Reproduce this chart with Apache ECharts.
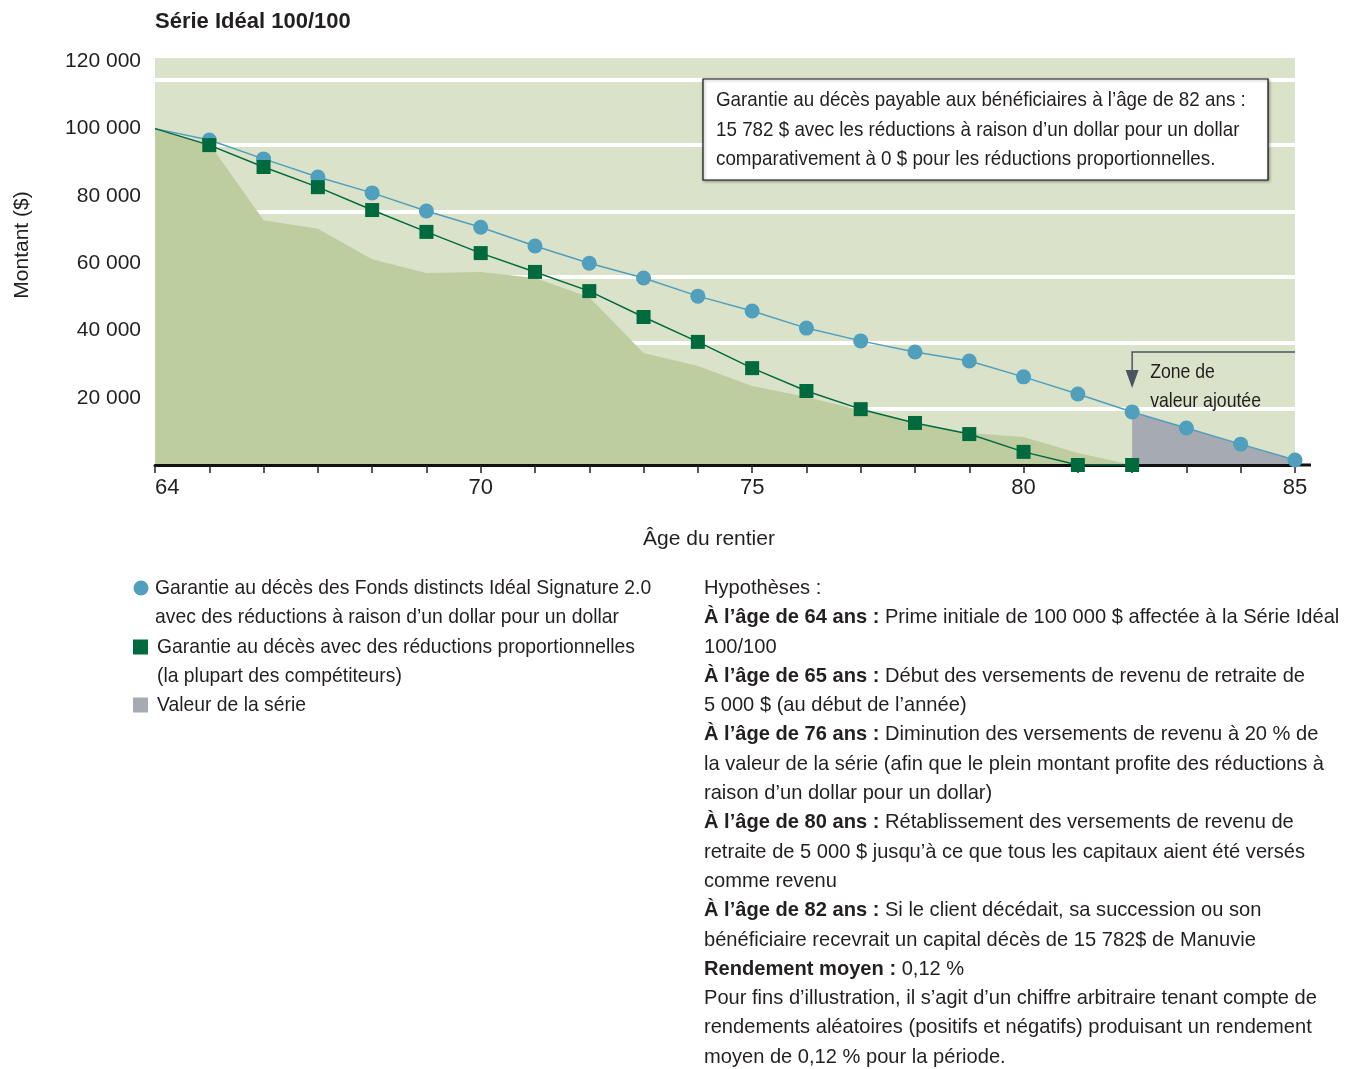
<!DOCTYPE html>
<html>
<head>
<meta charset="utf-8">
<script src="https://cdn.jsdelivr.net/npm/echarts@6/dist/echarts.min.js"></script>
<style>
  html, body { margin: 0; padding: 0; background: #ffffff; }
  #chart { width: 1354px; height: 1069px; }
</style>
</head>
<body>
<div id="chart"></div>
<script>
// Ages of the annuitant (x axis)
const ages = [64, 65, 66, 67, 68, 69, 70, 71, 72, 73, 74, 75, 76, 77, 78, 79, 80, 81, 82, 83, 84, 85];
// Death benefit with dollar-for-dollar reductions (Idéal Signature 2.0)
const guaranteeDollar = [100000, 96600, 91000, 85600, 80900, 75500, 70700, 65100, 60000, 55600, 50200,
  45800, 40700, 36900, 33600, 30900, 26200, 21100, 15782, 11000, 6200, 1500];
// Death benefit with proportional reductions (ages 64 to 82)
const guaranteeProportional = [100000, 95100, 88600, 82600, 75800, 69300, 63000, 57400, 51700, 44000,
  36600, 28800, 22000, 16600, 12500, 9200, 3900, 0, 0];
// Market value of the series (ages 64 to 82)
const seriesValue = [100000, 95600, 72800, 70200, 61200, 57100, 57400, 55600, 49900, 33300, 29400,
  23500, 20200, 16300, 12500, 9500, 8300, 3600, 0];
// Age where the added-value zone begins
const zoneStartAge = 82;
// Ages that carry a tick label
const labelledAges = [64, 70, 75, 80, 85];
// Levels of the white horizontal rules behind the data
const ruleLevels = [16600, 36300, 55900, 75200, 95100, 114400];

const TEXT = '#231f20';
const SANS = '"Liberation Sans", Arial, sans-serif';

const C_BG = '#dae2ca';
const C_VALUE = '#becda0';
const C_BLUE = '#4f9fbd';
const C_GREEN = '#006a3f';
const C_GREY = '#a6abb3';
const C_ARROW = '#4a5560';

const spaced = v => String(v).replace(/\B(?=(\d{3})+(?!\d))/g, ' ');
const toPoints = vals => vals.map((v, i) => [ages[i], v]);

const dollarData = toPoints(guaranteeDollar).map((p, i) => i === 0 ? { value: p, symbol: 'none' } : p);
const proportionalData = toPoints(guaranteeProportional).map((p, i) => i === 0 ? { value: p, symbol: 'none' } : p);
const valueData = toPoints(seriesValue);
const zoneData = toPoints(guaranteeDollar).filter(p => p[0] >= zoneStartAge);

const chart = echarts.init(document.getElementById('chart'), null, { renderer: 'canvas' });

chart.setOption({
  animation: false,
  backgroundColor: '#ffffff',
  grid: {
    left: 155, right: 59, top: 58, bottom: 604,
    show: true, backgroundColor: C_BG, borderWidth: 0
  },
  xAxis: {
    type: 'value', min: 64, max: 85, interval: 1, z: 3,
    name: 'Âge du rentier', nameLocation: 'middle', nameGap: 64,
    nameTextStyle: { color: TEXT, fontSize: 21, fontFamily: SANS, padding: [0, 32, 0, 0] },
    axisLine: { show: true, lineStyle: { color: '#111111', width: 3 } },
    axisTick: { show: true, length: 8, lineStyle: { color: '#222222', width: 1.5 } },
    axisLabel: {
      color: TEXT, fontSize: 22, fontFamily: SANS, margin: 12, alignMinLabel: 'left',
      formatter: v => labelledAges.includes(v) ? String(v) : ''
    },
    splitLine: { show: false }
  },
  yAxis: {
    type: 'value', min: 0, max: 121000, interval: 20000,
    name: 'Montant ($)', nameLocation: 'middle', nameGap: 122,
    nameTextStyle: { color: TEXT, fontSize: 21, fontFamily: SANS, padding: [0, 0, 0, 33] },
    axisLine: { show: false },
    axisTick: { show: false },
    axisLabel: {
      color: TEXT, fontSize: 21, fontFamily: SANS, margin: 14,
      formatter: v => v === 0 ? '' : spaced(v)
    },
    splitLine: { show: false }
  },
  series: [
    {
      name: 'Valeur de la série',
      type: 'line', z: 2, data: valueData, symbol: 'none',
      lineStyle: { width: 0 }, areaStyle: { color: C_VALUE, opacity: 1 },
      markLine: {
        silent: true, z: 1, symbol: 'none', label: { show: false },
        lineStyle: { color: '#ffffff', width: 4, type: 'solid' },
        data: ruleLevels.map(v => ({ yAxis: v }))
      }
    },
    {
      name: 'Zone de valeur ajoutée',
      type: 'line', z: 2, data: zoneData, symbol: 'none',
      lineStyle: { width: 0 }, areaStyle: { color: C_GREY, opacity: 1 }
    },
    {
      name: 'Garantie au décès des Fonds distincts Idéal Signature 2.0',
      type: 'line', z: 4, data: dollarData,
      symbol: 'circle', symbolSize: 15, showAllSymbol: true,
      lineStyle: { color: C_BLUE, width: 1.5 },
      itemStyle: { color: C_BLUE }
    },
    {
      name: 'Garantie au décès avec des réductions proportionnelles',
      type: 'line', z: 5, data: proportionalData,
      symbol: 'rect', symbolSize: 14, showAllSymbol: true,
      lineStyle: { color: C_GREEN, width: 1.5 },
      itemStyle: { color: C_GREEN }
    }
  ]
});

// Annotation that points at the death benefit payable at 82
const p = chart.convertToPixel({ gridIndex: 0 }, [zoneStartAge, guaranteeDollar[ages.indexOf(zoneStartAge)]]);
const base = chart.convertToPixel({ gridIndex: 0 }, [85, 0]);

// Condensed text block: horizontal squeeze applied around its top-left corner
const textEl = (x, y, text, squeeze, extra) => ({
  type: 'text', x: x, y: y, scaleX: squeeze,
  style: Object.assign({
    text: text, fill: TEXT, fontSize: 21, fontFamily: SANS,
    lineHeight: 29.3, verticalAlign: 'top', align: 'left'
  }, extra || {})
});

const hypotheses = [
  'Hypothèses :',
  '{b|À l’âge de 64 ans :} Prime initiale de 100 000 $ affectée à la Série Idéal',
  '100/100',
  '{b|À l’âge de 65 ans :} Début des versements de revenu de retraite de',
  '5 000 $ (au début de l’année)',
  '{b|À l’âge de 76 ans :} Diminution des versements de revenu à 20 % de',
  'la valeur de la série (afin que le plein montant profite des réductions à',
  'raison d’un dollar pour un dollar)',
  '{b|À l’âge de 80 ans :} Rétablissement des versements de revenu de',
  'retraite de 5 000 $ jusqu’à ce que tous les capitaux aient été versés',
  'comme revenu',
  '{b|À l’âge de 82 ans :} Si le client décédait, sa succession ou son',
  'bénéficiaire recevrait un capital décès de 15 782$ de Manuvie',
  '{b|Rendement moyen :} 0,12 %',
  'Pour fins d’illustration, il s’agit d’un chiffre arbitraire tenant compte de',
  'rendements aléatoires (positifs et négatifs) produisant un rendement',
  'moyen de 0,12 % pour la période.'
].join('\n');

chart.setOption({
  graphic: {
    elements: [
      // Title
      textEl(155, 7, 'Série Idéal 100/100', 1, { fontWeight: 'bold', fontSize: 22 }),
      // Axis line runs a little past the plotting area
      {
        type: 'line', z: 3,
        shape: { x1: base[0], y1: base[1], x2: base[0] + 16, y2: base[1] },
        style: { stroke: '#111111', lineWidth: 3 }
      },
      // Boxed note
      {
        type: 'rect', z: 20,
        shape: { x: 703, y: 79, width: 565, height: 101 },
        style: { fill: '#ffffff', stroke: '#111111', lineWidth: 1.2,
                 shadowBlur: 3, shadowOffsetX: 1, shadowOffsetY: 1, shadowColor: 'rgba(0,0,0,0.35)' }
      },
      Object.assign(textEl(716, 86,
        'Garantie au décès payable aux bénéficiaires à l’âge de 82 ans :\n' +
        '15 782 $ avec les réductions à raison d’un dollar pour un dollar\n' +
        'comparativement à 0 $ pour les réductions proportionnelles.', 0.895), { z: 21 }),
      // Added-value zone pointer
      {
        type: 'polyline', z: 20,
        shape: { points: [[base[0], p[1] - 60], [p[0], p[1] - 60], [p[0], p[1] - 40]] },
        style: { stroke: C_ARROW, lineWidth: 1.5, fill: null }
      },
      {
        type: 'polygon', z: 20,
        shape: { points: [[p[0] - 6.5, p[1] - 42], [p[0] + 6.5, p[1] - 42], [p[0], p[1] - 24]] },
        style: { fill: C_ARROW }
      },
      Object.assign(textEl(p[0] + 18, p[1] - 54, 'Zone de\nvaleur ajoutée', 0.84, { lineHeight: 29 }), { z: 21 }),
      // Legend
      { type: 'circle', shape: { cx: 141, cy: 588, r: 7.5 }, style: { fill: C_BLUE } },
      textEl(155, 573.5, 'Garantie au décès des Fonds distincts Idéal Signature 2.0\navec des réductions à raison d’un dollar pour un dollar', 0.92),
      { type: 'rect', shape: { x: 133, y: 639.5, width: 15, height: 15 }, style: { fill: C_GREEN } },
      textEl(157, 632.5, 'Garantie au décès avec des réductions proportionnelles\n(la plupart des compétiteurs)', 0.92),
      { type: 'rect', shape: { x: 133, y: 697.5, width: 15, height: 15 }, style: { fill: C_GREY } },
      textEl(157, 690.5, 'Valeur de la série', 0.92),
      // Assumptions
      textEl(704, 573.5, hypotheses, 0.957, {
        rich: { b: { fontWeight: 'bold', fontSize: 21, fontFamily: SANS, lineHeight: 29.3, fill: TEXT } }
      })
    ]
  }
});
</script>
</body>
</html>
